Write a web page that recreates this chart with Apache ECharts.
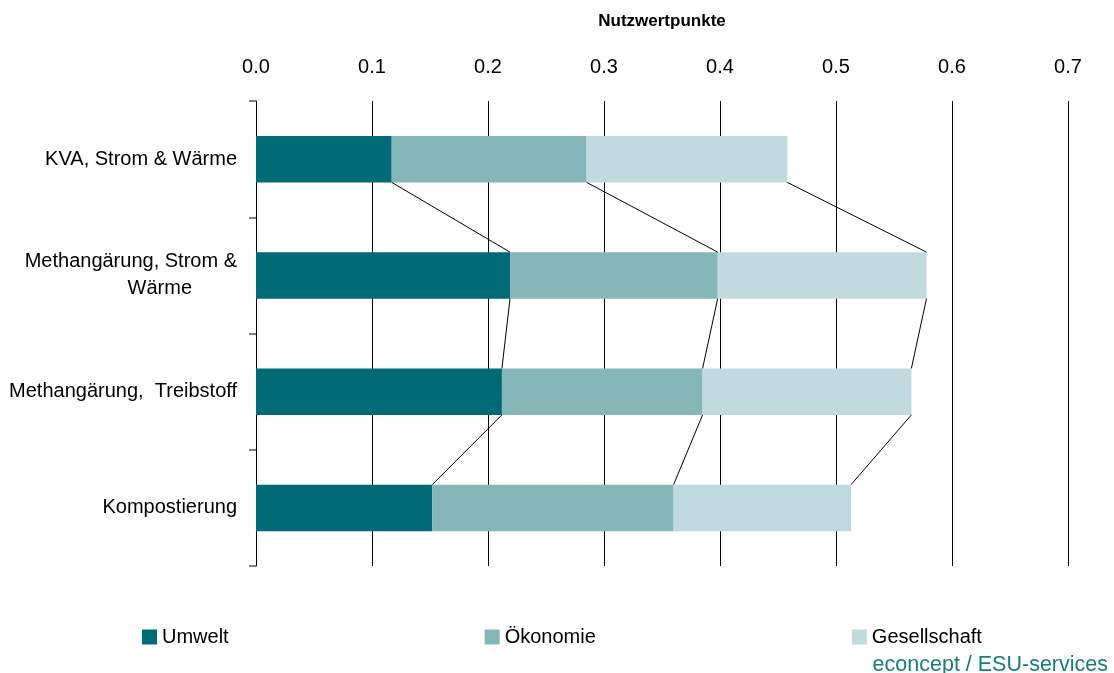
<!DOCTYPE html>
<html>
<head>
<meta charset="utf-8">
<script src="https://cdn.jsdelivr.net/npm/echarts@6/dist/echarts.min.js"></script>
<style>
  html, body { margin: 0; padding: 0; background: #fff; }
  #chart { width: 1114px; height: 673px; }
</style>
</head>
<body>
<div id="chart"></div>
<script>
// Kategorien (von oben nach unten)
let categories = ['KVA, Strom & Wärme', 'Methangärung, Strom & Wärme', 'Methangärung,  Treibstoff', 'Kompostierung'];
let seriesNames = ['Umwelt', 'Ökonomie', 'Gesellschaft'];
let umwelt = [0.117, 0.219, 0.212, 0.152];
let oekonomie = [0.168, 0.179, 0.173, 0.208];
let gesellschaft = [0.173, 0.180, 0.180, 0.153];

let colors = ['#006b77', '#85b6b8', '#c1dadd'];
let font = '"Liberation Sans", Arial, sans-serif';
let barShare = 0.4;

// Verbindungslinien zwischen den Balken (Excel "Reihenlinien")
let stacks = [umwelt, oekonomie, gesellschaft];
let lineData = [];
for (var i = 0; i < categories.length - 1; i++) {
    let cumA = 0, cumB = 0;
    for (var k = 0; k < stacks.length; k++) {
        cumA += stacks[k][i];
        cumB += stacks[k][i + 1];
        lineData.push([i, cumA, cumB]);
    }
}

let myChart = echarts.init(document.getElementById('chart'));

let option = {
    animation: false,
    textStyle: { fontFamily: font },
    grid: { left: 256, right: 46, top: 101, bottom: 107, outerBoundsMode: 'none', containLabel: false },
    legend: {
        data: seriesNames,
        left: 142,
        top: 627,
        padding: 0,
        itemGap: 256,
        itemWidth: 15,
        itemHeight: 15,
        icon: 'rect',
        textStyle: { fontFamily: font, fontSize: 20, color: '#000' }
    },
    graphic: [{
        type: 'text',
        right: 6,
        top: 654,
        style: { text: 'econcept / ESU-services', fill: '#177c80', font: '21.5px ' + font }
    }],
    xAxis: {
        type: 'value',
        position: 'top',
        min: 0,
        max: 0.7,
        interval: 0.1,
        name: 'Nutzwertpunkte',
        nameLocation: 'middle',
        nameGap: 71,
        nameTextStyle: { fontWeight: 'bold', fontSize: 17, color: '#000', fontFamily: font },
        axisLine: { show: false },
        axisTick: { show: false },
        axisLabel: {
            margin: 24,
            fontSize: 20,
            color: '#000',
            formatter: function (v) { return v.toFixed(1); }
        },
        splitLine: { show: true, lineStyle: { color: '#000', width: 1 } }
    },
    yAxis: {
        type: 'category',
        inverse: true,
        data: categories,
        axisLine: { show: true, lineStyle: { color: '#000', width: 1 } },
        axisTick: { show: true, length: 7, lineStyle: { color: '#808080', width: 2 } },
        axisLabel: {
            margin: 19,
            fontSize: 20,
            color: '#000',
            lineHeight: 27,
            formatter: function (v) {
                if (v === 'Methangärung, Strom & Wärme') {
                    return 'Methangärung, Strom &\n{w|Wärme}';
                }
                return v;
            },
            rich: {
                w: { fontSize: 20, fontFamily: font, color: '#000', lineHeight: 27, padding: [0, 45, 0, 0] }
            }
        }
    },
    series: [
        {
            name: seriesNames[0], type: 'bar', stack: 'total', barWidth: (barShare * 100) + '%',
            itemStyle: { color: colors[0] }, data: umwelt
        },
        {
            name: seriesNames[1], type: 'bar', stack: 'total', barWidth: (barShare * 100) + '%',
            itemStyle: { color: colors[1] }, data: oekonomie
        },
        {
            name: seriesNames[2], type: 'bar', stack: 'total', barWidth: (barShare * 100) + '%',
            itemStyle: { color: colors[2] }, data: gesellschaft
        },
        {
            type: 'custom',
            silent: true,
            z: 5,
            encode: { x: [1, 2], y: 0 },
            data: lineData,
            renderItem: function (params, api) {
                let cat = api.value(0);
                let p1 = api.coord([api.value(1), cat]);
                let p2 = api.coord([api.value(2), cat + 1]);
                let half = api.size([0, 1])[1] * barShare / 2;
                return {
                    type: 'line',
                    shape: { x1: p1[0], y1: p1[1] + half, x2: p2[0], y2: p2[1] - half },
                    style: { stroke: '#000', lineWidth: 1 }
                };
            }
        }
    ]
};

myChart.setOption(option);
</script>
</body>
</html>
